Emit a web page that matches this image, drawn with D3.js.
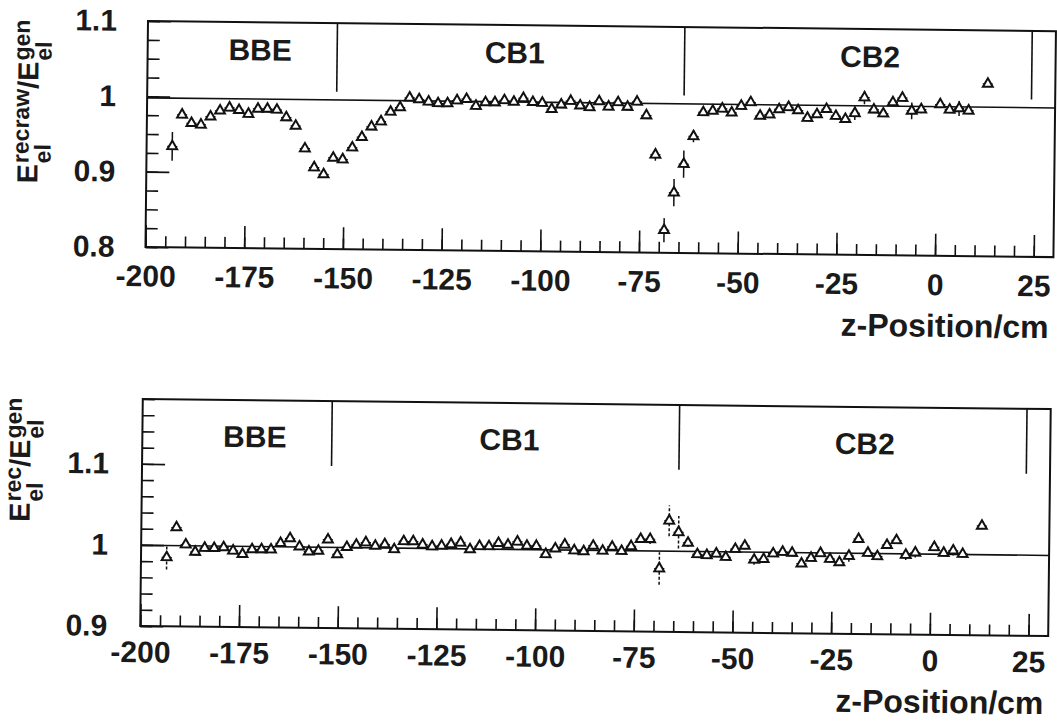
<!DOCTYPE html>
<html>
<head>
<meta charset="utf-8">
<script src="https://cdn.jsdelivr.net/npm/d3@7"></script>
<style>
body { margin: 0; background: #fff; }
text { font-family: "Liberation Sans", Arial, sans-serif; font-weight: bold; fill: #1a1a1a; }
</style>
</head>
<body>
<svg id="chart" width="1057" height="721"></svg>
<script>
// bin centres (cm); bins at -1.5 and 10.5 are empty
var zPos = [-193.5,-191.1,-188.7,-186.3,-183.9,-181.5,-179.1,-176.7,-174.3,-171.9,
  -169.5,-167.1,-164.7,-162.3,-159.9,-157.5,-155.1,-152.7,-150.3,-147.9,
  -145.5,-143.1,-140.7,-138.3,-135.9,-133.5,-131.1,-128.7,-126.3,-123.9,
  -121.5,-119.1,-116.7,-114.3,-111.9,-109.5,-107.1,-104.7,-102.3,-99.9,
  -97.5,-95.1,-92.7,-90.3,-87.9,-85.5,-83.1,-80.7,-78.3,-75.9,
  -73.5,-71.1,-68.7,-66.3,-63.9,-61.5,-59.1,-56.7,-54.3,-51.9,
  -49.5,-47.1,-44.7,-42.3,-39.9,-37.5,-35.1,-32.7,-30.3,-27.9,
  -25.5,-23.1,-20.7,-18.3,-15.9,-13.5,-11.1,-8.7,-6.3,-3.9,
  0.9,3.3,5.7,8.1,12.9];

// E_recraw / E_gen
var rawRatio = [0.934,0.976,0.965,0.963,0.974,0.982,0.986,0.983,0.978,0.985,
  0.985,0.984,0.974,0.963,0.933,0.908,0.899,0.921,0.919,0.935,
  0.949,0.963,0.970,0.983,0.989,1.002,1.000,0.997,0.995,0.995,
  0.999,1.001,0.992,0.997,0.997,1.000,0.998,1.003,0.998,0.997,
  0.989,0.995,1.000,0.994,0.992,1.000,0.993,0.999,0.993,1.000,
  0.982,0.930,0.830,0.880,0.918,0.955,0.987,0.989,0.992,0.987,
  0.996,1.001,0.983,0.985,0.992,0.995,0.991,0.981,0.986,0.993,
  0.984,0.980,0.988,1.009,0.993,0.988,1.003,1.009,0.992,0.994,
  1.001,0.994,0.996,0.993,1.029];
var rawErr = [0.019,0.004,0.004,0.004,0.004,0.004,0.004,0.004,0.004,0.004,
  0.004,0.004,0.004,0.004,0.004,0.004,0.004,0.004,0.004,0.004,
  0.004,0.004,0.004,0.004,0.004,0.004,0.004,0.004,0.004,0.004,
  0.004,0.004,0.004,0.004,0.004,0.004,0.004,0.004,0.004,0.004,
  0.004,0.004,0.004,0.004,0.004,0.004,0.004,0.004,0.004,0.004,
  0.004,0.008,0.016,0.018,0.018,0.008,0.005,0.004,0.004,0.004,
  0.004,0.004,0.004,0.004,0.004,0.004,0.004,0.004,0.004,0.004,
  0.004,0.004,0.009,0.009,0.004,0.004,0.004,0.004,0.011,0.005,
  0.004,0.004,0.010,0.004,0.004];

// E_rec / E_gen
var recRatio = [0.985,1.022,1.001,0.992,0.997,0.997,0.998,0.994,0.990,0.996,
  0.996,0.996,1.004,1.010,1.000,0.994,0.995,1.009,0.991,1.000,
  1.003,1.006,1.002,1.004,0.998,1.008,1.008,1.004,1.002,1.003,
  1.005,1.007,0.999,1.003,1.003,1.007,1.005,1.009,1.004,1.004,
  0.994,1.001,1.006,0.999,0.998,1.005,0.999,1.004,0.999,1.005,
  1.014,1.014,0.978,1.037,1.023,1.010,0.996,0.995,0.997,0.993,
  1.003,1.007,0.990,0.991,0.998,1.000,0.999,0.986,0.993,0.999,
  0.992,0.988,0.996,1.017,1.000,0.996,1.010,1.016,0.998,1.001,
  1.008,1.001,1.004,1.000,1.035];
var recErr = [0.015,0.004,0.004,0.004,0.004,0.004,0.004,0.004,0.004,0.004,
  0.004,0.004,0.004,0.004,0.004,0.004,0.004,0.004,0.004,0.004,
  0.004,0.004,0.004,0.004,0.004,0.004,0.004,0.004,0.004,0.004,
  0.004,0.004,0.004,0.004,0.004,0.004,0.004,0.004,0.004,0.004,
  0.004,0.004,0.004,0.004,0.004,0.004,0.004,0.004,0.004,0.004,
  0.004,0.006,0.020,0.019,0.020,0.005,0.004,0.004,0.004,0.004,
  0.004,0.004,0.006,0.004,0.004,0.004,0.004,0.004,0.004,0.004,
  0.004,0.004,0.007,0.004,0.004,0.004,0.004,0.004,0.006,0.006,
  0.004,0.004,0.006,0.004,0.004];

var xTicks = [-200,-175,-150,-125,-100,-75,-50,-25,0,25];
var regionEdges = [-152,-64,24];
var regionNames = ["BBE","CB1","CB2"];
var regionLabelZ = [-171.5,-107,-17];

var topYTicks = [0.8,0.9,1,1.1];
var botYTicks = [0.9,1,1.1];
var topFit = 0.998, botFit = 0.9995;

var svg = d3.select("#chart");
svg.append("rect").attr("width",1057).attr("height",721).attr("fill","#fff");
// the scanned original is tilted by a small angle
var root = svg.append("g").attr("transform","rotate(0.64,148,21)");

function drawPanel(p){
    var g = root.append("g");
    var x = d3.scaleLinear().domain([-200,30]).range([p.left,p.right]);
    var y = d3.scaleLinear().domain(p.yDomain).range([p.bottom,p.top]);

    // minor ticks
    g.append("g").attr("transform","translate(0,"+p.bottom+")")
        .call(d3.axisBottom(x).tickValues(d3.range(-200,26,5)).tickSize(-11).tickFormat(""))
        .call(function(a){ a.select(".domain").remove(); });
    g.append("g").attr("transform","translate("+p.left+",0)")
        .call(d3.axisLeft(y).tickValues(d3.range(p.yDomain[0],p.yDomain[1]+1e-6,p.yMinor)).tickSize(-12).tickFormat(""))
        .call(function(a){ a.select(".domain").remove(); });

    // major ticks + labels
    var xa = g.append("g").attr("transform","translate(0,"+p.bottom+")")
        .call(d3.axisBottom(x).tickValues(xTicks).tickSize(-22).tickPadding(p.xPad).tickFormat(function(d){ return String(d); }));
    xa.select(".domain").remove();
    xa.selectAll("text").attr("font-size",30).attr("font-family",null);
    var ya = g.append("g").attr("transform","translate("+p.left+",0)")
        .call(d3.axisLeft(y).tickValues(p.yTicks).tickSize(-23).tickPadding(p.yPad).tickFormat(function(d){ return d===1?"1":d3.format(".1f")(d); }));
    ya.select(".domain").remove();
    ya.selectAll("text").attr("font-size",30).attr("font-family",null);
    g.selectAll(".tick line").attr("stroke","#111").attr("stroke-width",1.6);

    // frame
    g.append("rect").attr("x",p.left).attr("y",p.top)
        .attr("width",p.right-p.left).attr("height",p.bottom-p.top)
        .attr("fill","none").attr("stroke","#111").attr("stroke-width",2);

    // fitted constant
    g.append("line").attr("x1",p.left).attr("x2",p.right)
        .attr("y1",y(p.fit)).attr("y2",y(p.fit))
        .attr("stroke","#111").attr("stroke-width",1.6);

    // calorimeter region boundaries
    g.selectAll(".edge").data(regionEdges).enter().append("line")
        .attr("x1",function(d){ return x(d); }).attr("x2",function(d){ return x(d); })
        .attr("y1",p.top).attr("y2",y(p.edgeEnd))
        .attr("stroke","#111").attr("stroke-width",1.6);
    g.selectAll(".region").data(regionNames).enter().append("text")
        .attr("x",function(d,i){ return x(regionLabelZ[i]); })
        .attr("y",p.labelY)
        .attr("text-anchor","middle").attr("font-size",30)
        .text(function(d){ return d; });

    // points
    var pts = g.selectAll(".pt").data(zPos).enter().append("g")
        .attr("transform",function(d,i){ return "translate("+x(d)+","+y(p.values[i])+")"; });
    pts.append("line")
        .attr("y1",function(d,i){ return y(p.values[i]-p.errors[i])-y(p.values[i]); })
        .attr("y2",function(d,i){ return y(p.values[i]+p.errors[i])-y(p.values[i]); })
        .attr("stroke","#111").attr("stroke-width",1.5)
        .attr("stroke-dasharray",p.dashed ? "3,2" : null);
    pts.append("line").attr("x1",x(-1.3)-x(0)).attr("x2",x(1.3)-x(0))
        .attr("stroke","#111").attr("stroke-width",1);
    pts.append("path").attr("d",d3.symbol(d3.symbolTriangle,42)())
        .attr("fill","#fff").attr("stroke","#111").attr("stroke-width",2);

    // axis title
    g.append("text").attr("x",p.right-4).attr("y",p.xTitleY)
        .attr("text-anchor","end").attr("font-size",32).text("z-Position/cm");

    // y title: E_el^sup / E_el^gen, rotated
    var t = g.append("g");
    var cx = 0;
    function term(sup){
        var e = t.append("text").attr("x",cx).attr("y",0).attr("font-size",29).text("E");
        cx += e.node().getComputedTextLength() + 1;
        var sb = t.append("text").attr("x",cx).attr("y",13).attr("font-size",23).text("el");
        var sp = t.append("text").attr("x",cx).attr("y",-9).attr("font-size",23).text(sup);
        cx += Math.max(sb.node().getComputedTextLength(), sp.node().getComputedTextLength());
    }
    term(p.sup);
    var sl = t.append("text").attr("x",cx).attr("y",0).attr("font-size",29).text("/");
    cx += sl.node().getComputedTextLength();
    term("gen");
    t.attr("transform","translate("+p.titleX+","+(p.top+cx)+") rotate(-90)");
}

drawPanel({left:148,right:1056,top:21,bottom:247,yDomain:[0.8,1.1],yMinor:0.025,yTicks:topYTicks,
    values:rawRatio,errors:rawErr,fit:topFit,edgeEnd:1.009,labelY:59,xPad:18,yPad:31,
    xTitleY:328,titleX:39,sup:"recraw",dashed:false});
drawPanel({left:147,right:1055,top:399,bottom:626,yDomain:[0.9,1.18],yMinor:0.02,yTicks:botYTicks,
    values:recRatio,errors:recErr,fit:botFit,edgeEnd:1.1,labelY:446,xPad:15,yPad:33,
    xTitleY:704,titleX:35,sup:"rec",dashed:true});
</script>
</body>
</html>
